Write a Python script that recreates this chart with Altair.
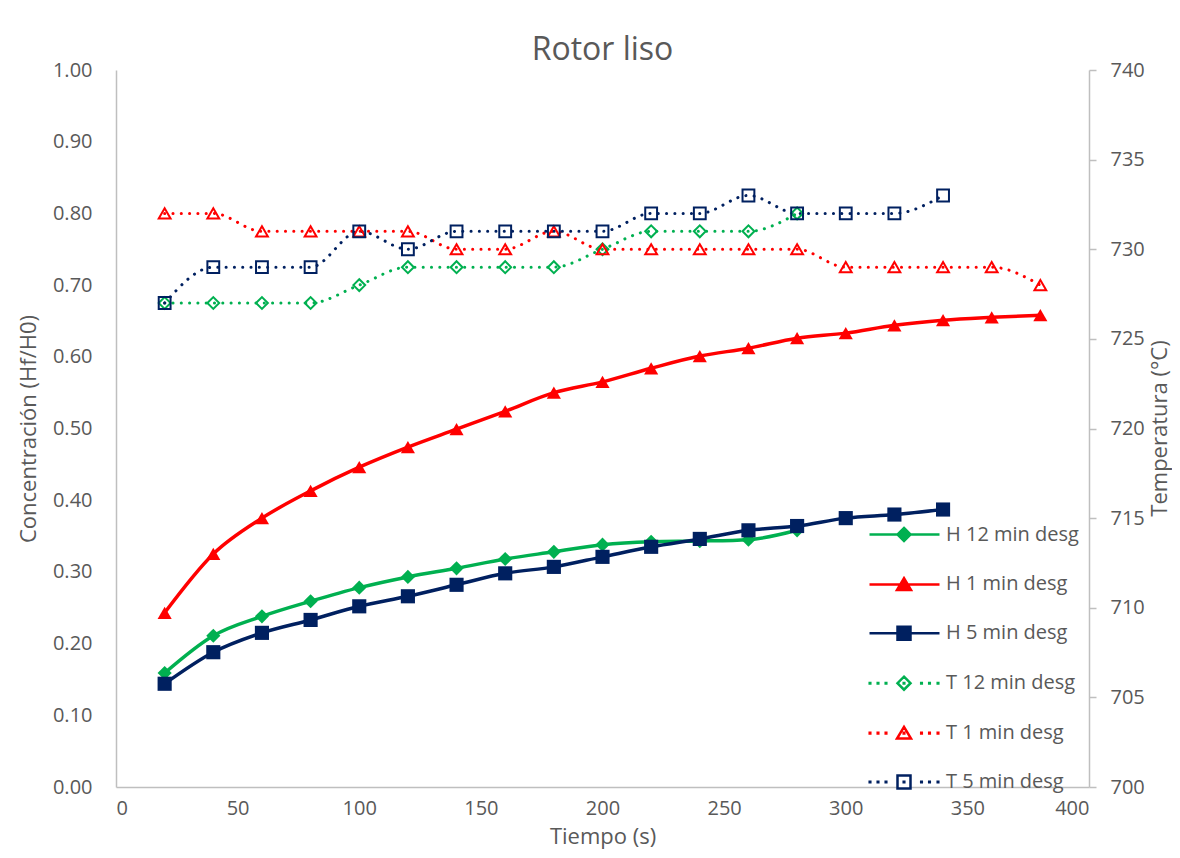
import altair as alt
import pandas as pd

# ---------------- data ----------------
time_s = [20, 40, 60, 80, 100, 120, 140, 160, 180, 200, 220, 240, 260, 280, 300, 320, 340, 360, 380]

h12 = [0.159, 0.211, 0.238, 0.259, 0.278, 0.293, 0.305, 0.318, 0.328, 0.338, 0.342, 0.343, 0.345, 0.358]
h1 = [0.243, 0.325, 0.375, 0.413, 0.446, 0.474, 0.499, 0.524, 0.550, 0.565, 0.584, 0.601, 0.612, 0.626,
      0.633, 0.644, 0.651, 0.655, 0.658]
h5 = [0.144, 0.188, 0.215, 0.233, 0.252, 0.266, 0.282, 0.298, 0.307, 0.321, 0.335, 0.346, 0.358, 0.364,
      0.375, 0.380, 0.387]

t12 = [727, 727, 727, 727, 728, 729, 729, 729, 729, 730, 731, 731, 731, 732]
t1 = [732, 732, 731, 731, 731, 731, 730, 730, 731, 730, 730, 730, 730, 730, 729, 729, 729, 729, 728]
t5 = [727, 729, 729, 729, 731, 730, 731, 731, 731, 731, 732, 732, 733, 732, 732, 732, 733]

names = ["H 12 min desg", "H 1 min desg", "H 5 min desg", "T 12 min desg", "T 1 min desg", "T 5 min desg"]
colors = ["#00B050", "#FF0000", "#002060", "#00B050", "#FF0000", "#002060"]
shapes = ["diamond", "triangle-up", "square", "diamond", "triangle-up", "square"]
x_ticks = [0, 50, 100, 150, 200, 250, 300, 350, 400]
y_ticks = [0.0, 0.1, 0.2, 0.3, 0.4, 0.5, 0.6, 0.7, 0.8, 0.9, 1.0]
y2_ticks = [700, 705, 710, 715, 720, 725, 730, 735, 740]

h_rows = []
for name, vals in zip(names[:3], [h12, h1, h5]):
    for t, v in zip(time_s, vals):
        h_rows.append({"series": name, "t": t, "v": v})
h_df = pd.DataFrame(h_rows)

t_rows = []
for name, vals in zip(names[3:], [t12, t1, t5]):
    for t, v in zip(time_s, vals):
        t_rows.append({"series": name, "t": t, "temp": v})
t_df = pd.DataFrame(t_rows)

# ---------------- styles ----------------
FONT = "Open Sans"
GRAY = "#595959"
AXIS_GRAY = "#BFBFBF"

x_enc = alt.X(
    "t:Q",
    scale=alt.Scale(domain=[0, 400], nice=False),
    axis=alt.Axis(values=x_ticks, title="Tiempo (s)", grid=False, ticks=False, tickSize=0,
                  labelPadding=11, titlePadding=8, domainColor=AXIS_GRAY, domainWidth=1.5),
)
# data colour scale (series listed T first so that it stays separate from the legend scales)
data_domain = names[3:] + names[:3]
data_range = colors[3:] + colors[:3]
color_enc = alt.Color("series:N", scale=alt.Scale(domain=data_domain, range=data_range), legend=None)

# ---------------- left axis: concentration ----------------
y_left = alt.Y(
    "v:Q",
    scale=alt.Scale(domain=[0, 1], nice=False),
    axis=alt.Axis(values=y_ticks, format=".2f", title="Concentración (Hf/H0)", grid=False,
                  ticks=False, tickSize=0, labelPadding=24, titlePadding=12,
                  domainColor=AXIS_GRAY, domainWidth=1.5),
)

h_line = alt.Chart(h_df).mark_line(interpolate="monotone", strokeWidth=3.5).encode(
    x=x_enc, y=y_left, color=color_enc
)
h_pts = [
    alt.Chart(h_df).transform_filter(alt.datum.series == nm).mark_point(
        filled=True, opacity=1, size=200, shape=shp
    ).encode(x=x_enc, y=y_left, color=color_enc)
    for nm, shp in zip(names[:3], shapes[:3])
]
left = alt.layer(h_line, *h_pts)

# ---------------- right axis: temperature ----------------
y_right = alt.Y(
    "temp:Q",
    scale=alt.Scale(domain=[700, 740], nice=False),
    axis=alt.Axis(orient="right", values=y2_ticks, format="d", title="Temperatura (°C)", grid=False,
                  ticks=True, tickSize=7, tickColor=AXIS_GRAY, tickWidth=1.5, labelPadding=14,
                  titleAngle=270, titleX=70, titleY=358, titleAlign="center", titleBaseline="middle",
                  domainColor=AXIS_GRAY, domainWidth=1.5),
)

t_line = alt.Chart(t_df).mark_line(interpolate="monotone", strokeWidth=3, strokeDash=[0.1, 8.2],
                                   strokeCap="round").encode(x=x_enc, y=y_right, color=color_enc)
t_pts = [
    alt.Chart(t_df).transform_filter(alt.datum.series == nm).mark_point(
        filled=False, opacity=1, size=140, strokeWidth=2, shape=shp
    ).encode(x=x_enc, y=y_right, color=color_enc)
    for nm, shp in zip(names[3:], shapes[3:])
]
right = alt.layer(t_line, *t_pts)

# ---------------- legend (line + marker symbols) ----------------
def dot(x):
    return f"M{x - 0.03:.3f},-0.03 h0.06 v0.06 h-0.06 Z"

diamond = "M2.45,-0.65 L3.1,0 L2.45,0.65 L1.8,0 Z"
triangle = "M2.45,-0.62 L3.15,0.55 L1.75,0.55 Z"
square = "M1.8,-0.65 H3.1 V0.65 H1.8 Z"
solid = "M-1,0 H6 "
dotted = " ".join(dot(x) for x in [-0.95, -0.15, 0.65, 2.45, 4.2, 5.0, 5.85]) + " "
legend_paths = [solid + diamond, solid + triangle, solid + square,
                dotted + diamond, dotted + triangle, dotted + square]
legend_fills = colors[:3] + ["#FFFFFF", "#FFFFFF", "#FFFFFF"]

leg = alt.Legend(title=None, orient="none", legendX=752, legendY=453, symbolSize=400,
                 symbolStrokeWidth=2.5, labelOffset=55, rowPadding=26.9, labelFont=FONT,
                 labelFontSize=20, labelColor=GRAY, padding=0, labelLimit=300, direction="vertical")

legend_layer = alt.Chart(t_df).transform_filter("false").mark_point(
    filled=True, opacity=1, size=400, strokeWidth=2.5
).encode(
    fill=alt.Fill("series:N", scale=alt.Scale(domain=names, range=legend_fills), legend=leg),
    stroke=alt.Stroke("series:N", scale=alt.Scale(domain=names, range=colors), legend=leg),
    shape=alt.Shape("series:N", scale=alt.Scale(domain=names, range=legend_paths), legend=leg),
)

chart = alt.layer(left, right, legend_layer).resolve_scale(
    y="independent"
).properties(
    width=973,
    height=717,
    padding={"left": 108, "top": 62, "right": 83, "bottom": 63},
    autosize=alt.AutoSizeParams(type="none"),
    background="white",
    title=alt.TitleParams("Rotor liso", font=FONT, fontSize=32, fontWeight="normal", color=GRAY,
                          anchor="middle", offset=-7),
).configure_axis(
    labelFont=FONT, labelFontSize=20, labelColor=GRAY,
    titleFont=FONT, titleFontSize=22, titleColor=GRAY, titleFontWeight="normal",
).configure_view(stroke=None)

chart.save("out.html", embed_options={"renderer": "svg", "actions": False})
